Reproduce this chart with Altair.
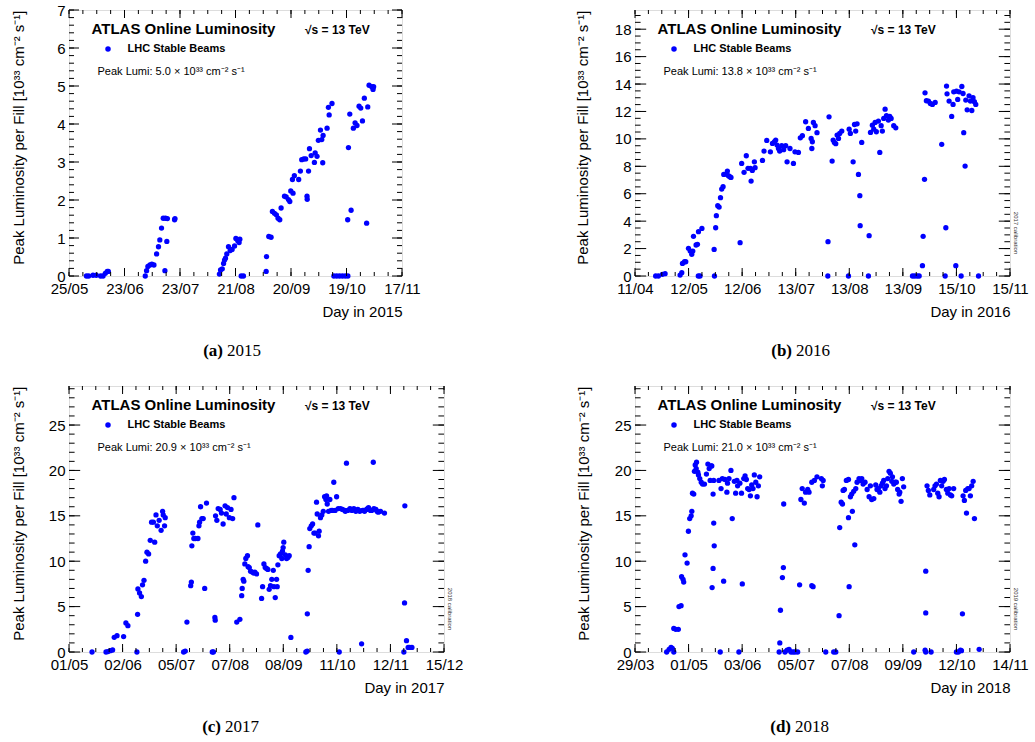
import json
import altair as alt
import pandas as pd
import numpy as np

SANS = "Liberation Sans"
SERIF = "Liberation Serif"
BLUE = "#0000ff"

# ---------------- data (day of year, peak luminosity 1e33) ----------------
days_2015 = [154.2, 155.4, 157.7, 159.4, 161.7, 163.0, 164.2, 165.2, 165.8,
             185.3, 186.0, 186.7, 187.8, 188.8, 189.9, 191.3, 192.3, 193.0, 193.9, 194.8,
             195.7, 196.0, 196.7, 197.0, 200.8, 201.0,
             224.5, 225.1, 226.0, 226.7, 227.2, 227.7, 228.4, 229.3, 230.2, 231.2, 232.5,
             233.2, 234.2, 234.9, 235.3, 236.0, 237.2,
             249.2, 249.4, 250.6, 251.8, 252.5, 253.6, 254.6, 255.5, 256.4, 257.1, 258.9,
             259.8, 261.0, 261.7, 262.2, 263.4, 263.1, 264.1, 266.4, 267.3, 268.0, 269.1,
             270.1, 270.8, 270.9, 271.6, 272.1, 273.0, 274.7, 275.1, 276.1, 276.8, 277.9,
             278.6, 279.1, 279.3, 281.4, 282.1, 282.5, 284.0,
             285.0, 286.5, 288.0, 289.5, 291.0, 292.4,
             292.3, 292.7, 293.4, 294.1, 295.3, 296.2, 297.2, 298.3, 299.2, 300.1, 301.1,
             302.3, 302.9, 303.6, 305.0, 305.7, 306.0]
lumi_2015 = [0, 0, 0.02, 0.02, 0, 0, 0.07, 0.12, 0.12,
             0, 0.14, 0.25, 0.29, 0.31, 0.29, 0.58, 0.77, 0.95, 1.26, 1.52,
             0.14, 1.52, 0.91, 1.51, 1.48, 1.51,
             0.05, 0.16, 0.19, 0.33, 0.42, 0.47, 0.58, 0.77, 0.67, 0.70, 0.79,
             0.99, 0.93, 0.88, 0.97, 0, 0,
             0.12, 0.51, 1.04, 1.02, 1.70, 1.65, 1.61, 1.52, 1.48, 1.79, 2.10,
             2.08, 2.01, 1.96, 2.24, 2.18, 2.54, 2.64, 2.54, 2.76, 3.06, 3.08,
             3.08, 2.10, 2.02, 2.76, 3.35, 3.17, 2.99, 3.24, 3.15, 3.57, 3.84,
             3.59, 2.98, 3.70, 3.89, 4.44, 4.24, 4.54,
             0, 0, 0, 0, 0, 0,
             1.48, 3.38, 4.26, 1.73, 3.89, 4.03, 3.96, 4.47, 4.42, 4.08, 4.68,
             1.39, 4.45, 5.02, 4.98, 4.91, 4.98]

days_2016 = [114.0, 115.6, 117.9, 119.5, 128.2, 129.2, 138.8, 139.8, 148.2,
             129.6, 130.8, 131.5, 133.1, 134.1, 135.0, 135.6, 136.0, 137.5, 138.3, 138.9,
             140.9, 148.0, 148.9, 149.3, 150.1, 150.9, 151.7, 152.4, 153.2, 153.6, 154.8,
             155.7, 156.3, 157.1, 157.8, 163.1, 164.0, 165.4, 166.7, 167.7, 169.1, 169.5,
             170.2, 171.4, 171.8, 176.1, 177.0, 178.6, 180.7, 181.9, 183.1, 183.8, 184.6,
             185.4, 186.1, 187.3, 188.4, 189.6, 190.4, 192.1, 194.1, 195.0, 197.0, 198.1,
             199.3, 201.2, 202.8, 204.4, 204.8, 205.1, 205.7, 206.7, 207.8,
             214.8, 214.2, 214.1, 216.6, 217.2, 217.9, 218.7, 219.5, 220.3, 221.0, 222.2,
             226.1, 226.5, 227.2, 228.8, 229.6, 230.3, 231.1, 231.9, 232.7, 232.9, 233.8,
             238.1, 237.7, 238.9, 240.0, 240.8, 241.6, 242.3, 243.5, 244.3, 245.1, 245.8,
             246.6, 247.4, 248.2, 249.3, 250.1, 250.9, 252.4, 253.6,
             263.3, 264.6, 266.0, 267.2, 269.1, 269.5, 270.3, 270.6, 271.4, 272.6, 273.7,
             274.9, 276.5, 280.3, 282.3, 282.7, 283.1, 283.4, 284.6, 286.1, 286.9, 287.3,
             288.5, 288.9, 289.6, 290.4, 291.6, 292.0, 292.7, 293.1, 293.9, 294.3, 295.1,
             296.2, 297.0, 297.8, 298.5, 299.3, 300.1, 301.7]
lumi_2016 = [0, 0, 0.12, 0.17, 0.07, 0.24, 0, 0, 0,
             0.92, 1.04, 1.04, 2.02, 1.82, 1.58, 1.82, 2.89, 2.26, 2.31, 3.23,
             3.47, 1.94, 3.52, 4.40, 5.13, 5.03, 5.71, 6.34, 6.51, 7.41, 7.43,
             7.65, 7.31, 7.24, 7.19, 2.43, 8.21, 7.56, 8.77, 7.85, 7.85, 6.92,
             7.70, 8.33, 7.90, 8.43, 9.11, 9.89, 9.06, 9.67, 9.79, 9.91, 9.55,
             9.30, 9.11, 9.50, 9.21, 9.50, 8.33, 9.30, 8.21, 9.06, 9.01, 10.08,
             10.23, 11.25, 10.76, 10.03, 9.30, 9.79, 11.20, 10.96, 10.45,
             11.61, 2.50, 0, 8.38, 9.91, 9.74, 9.65, 10.28, 10.03, 10.40, 10.57,
             0, 10.71, 10.40, 8.33, 11.05, 10.57, 11.10, 7.41, 5.86, 3.67, 9.74,
             2.94, 0, 10.47, 11.00, 10.71, 11.20, 10.52, 11.30, 9.01, 10.96, 10.57,
             11.49, 12.17, 11.69, 11.37, 11.64, 11.49, 10.96, 10.81,
             0, 0, 0, 0, 0.75, 2.89, 7.05, 13.36, 12.78, 12.76, 12.58,
             12.51, 12.66, 9.60, 0, 3.52, 13.85, 13.29, 12.76, 11.64, 12.51, 13.43,
             0.75, 13.48, 12.88, 13.43, 0, 13.82, 13.31, 10.45, 8.02, 12.83, 12.12,
             13.14, 12.76, 12.07, 13.00, 12.71, 12.51, 0]

days_2017 = [135.0, 143.5, 144.7, 146.1, 147.5, 148.5, 150.2, 154.2, 155.6, 156.8,
             162.3, 162.7, 162.9, 163.9, 165.0, 165.7, 166.6, 167.6, 168.4, 169.4, 170.4,
             173.1, 171.2, 172.3, 173.9, 174.7, 175.8, 177.0, 177.9, 178.3, 179.1, 179.5,
             190.7, 191.7, 192.7, 195.0, 195.4, 195.7, 196.3, 196.9, 197.8, 199.4, 200.0,
             200.4, 201.0, 201.8, 202.6, 203.5, 204.6, 208.1, 208.8, 209.7, 209.9, 210.1,
             210.9, 211.7, 212.9, 213.7, 214.7, 215.9, 216.6, 217.4, 218.5, 219.5, 220.5,
             221.3, 223.0, 224.9, 226.0, 226.3, 226.9, 227.3, 227.9, 228.5, 229.5, 229.9,
             230.6, 231.4, 232.4, 233.3, 234.0, 235.0, 235.8, 238.1, 238.7, 239.5, 240.3,
             241.1, 241.9, 242.7, 243.5, 244.3, 245.2, 245.6, 246.4, 247.2, 247.6, 248.0,
             248.8, 249.6, 250.4, 250.8, 251.2, 251.6, 252.5, 253.3, 254.1, 254.9, 255.9,
             265.0, 265.8, 265.9, 266.4, 267.0, 267.4, 268.3, 269.1, 269.9, 270.7, 271.5,
             271.9, 272.7, 273.1, 273.9, 274.7, 275.6, 276.4, 277.2, 277.6, 278.0, 278.8,
             279.6, 280.4, 281.2, 282.0, 282.8, 283.7, 284.7, 285.3, 286.1, 287.3, 288.7,
             289.0, 289.7, 290.5, 291.8, 292.4, 293.0, 294.2, 295.4, 295.9, 296.6, 297.2,
             297.8, 298.9, 299.5, 300.1, 300.7, 301.9, 302.5, 303.1, 304.3, 305.0, 306.0,
             306.4, 307.6, 308.3, 309.0, 310.4, 312.8,
             324.6, 325.0, 325.2, 326.2, 327.2, 328.2, 329.5]
lumi_2017 = [0, 0, 0.05, 0.15, 0.22, 1.62, 1.80, 1.70, 3.20, 2.90,
             0, 4.15, 6.95, 6.50, 6.10, 7.40, 7.90, 10.0, 11.0, 10.8, 12.3,
             12.1, 14.3, 14.3, 15.1, 13.9, 14.5, 13.4, 15.5, 15.1, 13.9, 14.8,
             0, 0.10, 3.30, 7.30, 7.70, 11.7, 13.1, 12.5, 12.5, 12.5, 13.9,
             14.3, 16.0, 14.7, 14.7, 7.00, 16.4, 0, 0, 3.80, 3.50, 15.0,
             14.5, 15.8, 15.7, 15.3, 14.1, 16.1, 15.2, 15.9, 14.8, 15.7, 14.7,
             17.0, 3.30, 3.60, 6.20, 7.00, 8.00, 7.80, 9.70, 10.3, 10.6, 9.40,
             9.30, 8.90, 8.80, 8.70, 8.80, 8.60, 14.0, 5.90, 7.20, 9.70, 9.30,
             9.20, 9.10, 6.90, 7.30, 8.00, 9.00, 7.20, 6.00, 8.00, 7.20, 9.60,
             10.6, 10.8, 10.3, 11.1, 11.5, 12.1, 10.7, 10.3, 10.4, 10.6, 1.60,
             0, 0.10, 4.20, 9.00, 11.6, 13.6, 13.9, 14.1, 13.1, 13.1, 16.5,
             15.2, 12.8, 13.3, 14.8, 15.1, 15.5, 17.1, 16.8, 17.2, 16.3, 15.5,
             16.8, 15.6, 15.6, 18.7, 15.6, 17.1, 15.8, 0, 15.8, 15.7, 15.6,
             15.5, 20.8, 15.6, 15.8, 15.7, 15.6, 15.8, 15.5, 15.6, 15.7, 15.6,
             15.5, 0.90, 15.6, 15.6, 15.5, 15.7, 15.8, 15.9, 15.6, 15.6, 20.9,
             15.8, 15.7, 15.5, 15.4, 15.5, 15.3,
             0, 5.40, 16.1, 1.25, 0.50, 0.50, 0.50]

days_2018 = [107.5, 109.0, 110.2, 111.0, 111.9, 111.9, 113.1, 114.7, 115.1, 116.4,
             116.7, 117.6, 118.0, 118.8, 120.1, 120.9, 121.7, 122.6, 123.0, 123.4, 124.2,
             124.6, 125.1, 125.9, 125.7, 126.7, 127.1, 127.9, 128.8, 129.6, 130.8, 132.0,
             132.9, 133.7, 134.3, 134.9, 135.3, 136.1, 136.5, 136.8, 136.1, 135.5, 136.5,
             140.5, 139.7, 141.0, 141.8, 142.6, 143.4, 144.6, 145.0, 145.9, 147.1, 147.9,
             149.2, 150.0, 150.8, 151.2, 152.0, 152.6, 153.6, 154.1, 155.0, 155.8, 156.6,
             157.4, 158.3, 159.1, 159.9, 160.7, 161.5, 162.4, 163.2, 164.0, 164.8,
             176.8, 177.2, 177.6, 178.8, 179.4, 179.6, 180.4, 181.7, 182.9, 184.1, 185.4,
             186.6, 188.2, 189.4, 190.2, 191.0, 192.3, 193.1, 194.4, 195.2, 196.9, 197.7,
             196.9, 198.5, 200.1, 202.8, 203.9, 203.4, 205.5, 210.4, 211.7, 213.7, 214.1,
             215.0, 215.8, 216.2, 217.0, 218.2, 219.5, 219.5, 219.9, 220.7, 221.5, 221.9,
             222.7, 223.4, 224.0, 224.8, 226.0, 226.9, 227.7, 228.5, 229.7, 231.0, 232.2,
             233.0, 233.8, 235.1, 236.3, 237.1, 237.9, 238.8, 239.6, 240.4, 241.2, 242.0,
             242.9, 243.7, 244.5, 245.3, 246.2, 246.6, 247.4, 248.2, 249.0, 249.8, 250.7,
             251.1, 251.9, 252.7, 253.5,
             259.7, 266.7, 267.1, 267.1, 267.1, 267.9, 268.7, 269.6, 270.4, 272.0, 272.8,
             273.7, 274.5, 275.3, 276.1, 276.9, 277.8, 278.6, 279.8, 280.7, 281.5, 282.3,
             283.1, 284.3, 286.0, 287.2, 288.5, 289.1, 289.7, 290.1, 290.9, 291.7, 292.2,
             293.0, 293.8, 294.6, 295.4, 296.3, 297.1, 300.0]
lumi_2018 = [0, 0.30, 0.50, 0.40, 0, 2.60, 2.50, 2.50, 5.00, 5.10,
             8.30, 8.00, 7.70, 10.7, 9.80, 13.3, 14.7, 15.0, 15.5, 17.5, 17.4,
             19.9, 20.6, 20.9, 20.2, 19.8, 19.5, 19.1, 18.7, 18.5, 18.5, 19.6,
             20.7, 20.2, 18.9, 20.5, 20.5, 17.4, 14.2, 11.7, 9.20, 7.10, 18.9,
             0, 18.9, 18.0, 19.1, 7.80, 19.0, 17.6, 18.6, 19.1, 20.0, 14.7,
             18.8, 17.5, 18.9, 18.3, 0, 18.6, 17.5, 7.50, 19.1, 19.4, 19.0,
             18.0, 17.9, 17.2, 18.4, 18.0, 19.5, 18.7, 17.1, 18.3, 19.3,
             0, 1.00, 4.60, 8.20, 9.30, 16.3, 0, 0.20, 0.30, 0, 0,
             0, 0, 7.40, 16.8, 18.0, 16.4, 17.6, 17.9, 17.6, 7.30, 7.20,
             18.7, 18.9, 19.3, 19.1, 18.9, 18.3, 0, 0, 0, 4.00, 13.7,
             16.5, 16.3, 17.8, 17.9, 18.9, 19.0, 14.8, 7.20, 17.1, 17.4, 15.5,
             17.7, 11.8, 18.0, 18.7, 19.1, 18.9, 19.1, 18.5, 18.7, 17.9, 17.1,
             18.3, 16.8, 16.9, 18.4, 17.9, 18.0, 17.6, 18.3, 18.6, 18.9, 18.0,
             18.3, 19.1, 19.9, 19.7, 18.8, 19.3, 18.5, 18.7, 18.7, 17.9, 17.4,
             17.6, 16.6, 19.1, 18.2,
             0, 0.20, 0, 8.90, 4.30, 18.3, 17.8, 17.3, 0, 17.9, 18.3,
             18.5, 17.5, 17.1, 18.9, 18.3, 18.8, 19.0, 17.9, 17.5, 18.0, 17.3,
             17.2, 18.0, 0, 0, 0.20, 0.15, 4.20, 17.2, 16.7, 17.8, 15.3,
             18.0, 18.0, 17.2, 18.3, 18.8, 14.7, 0.30]

labels_2015 = ["25/05", "23/06", "23/07", "21/08", "20/09", "19/10", "17/11"]
labels_2016 = ["11/04", "12/05", "12/06", "13/07", "13/08", "13/09", "15/10", "15/11"]
labels_2017 = ["01/05", "02/06", "05/07", "07/08", "08/09", "11/10", "12/11", "15/12"]
labels_2018 = ["29/03", "01/05", "03/06", "05/07", "07/08", "09/09", "12/10", "14/11"]

peak_text = {"2015": "5.0", "2016": "13.8", "2017": "20.9", "2018": "21.0"}
calib_text = {"2016": "2017 calibration", "2017": "2018 calibration", "2018": "2019 calibration"}

YTITLE = "Peak Luminosity per Fill [10³³ cm⁻² s⁻¹]"


def text_layer(s, x, y, size, weight="normal", align="left", angle=0, font=SANS, color="black"):
    return alt.Chart(pd.DataFrame({"t": [s]})).mark_text(
        align=align, baseline="middle", fontSize=size, fontWeight=weight,
        font=font, angle=angle, color=color
    ).encode(text="t:N", x=alt.value(x), y=alt.value(y))


def make_panel(days, lumi, x_range, x_labels, y_max, y_major_step, y_minor_step,
               width, height, title_pad, year, letter, cap_x):
    x0, x1 = x_range
    n = len(x_labels) - 1
    step = (x1 - x0) / n
    x_major = [x0 + i * step for i in range(n + 1)]
    x_minor = [x0 + i * step / 4 for i in range(4 * n + 1)]
    y_major = [float(v) for v in np.arange(0, y_max + 1e-9, y_major_step)]
    y_minor = [float(v) for v in np.arange(0, y_max + 1e-9, y_minor_step)]

    xs = alt.Scale(domain=[x0, x1], nice=False, zero=False)
    ys = alt.Scale(domain=[0, y_max], nice=False, zero=False)
    label_expr = f"{json.dumps(x_labels)}[round((datum.value - {x0}) / {step})]"

    xaxis = alt.Axis(values=x_major, labelExpr=label_expr, title=f"Day in {year}",
                     titleAnchor="end", ticks=False, tickSize=0, domain=False, grid=False,
                     labelFlush=False, labelOverlap=False, labelPadding=5, titlePadding=8,
                     labelFont=SANS, labelFontSize=15, titleFont=SANS, titleFontSize=15,
                     titleFontWeight="normal", labelColor="black", titleColor="black")
    yaxis = alt.Axis(values=y_major, format="d", title=YTITLE, titleAnchor="end",
                     ticks=False, tickSize=0, domain=False, grid=False, labelFlush=False,
                     labelOverlap=False, labelPadding=4, titlePadding=title_pad,
                     labelFont=SANS, labelFontSize=15, titleFont=SANS, titleFontSize=15,
                     titleFontWeight="normal", labelColor="black", titleColor="black")

    df = pd.DataFrame({"day": days, "lumi": lumi, "series": "LHC Stable Beams"})
    legend = alt.Legend(orient="none", legendX=33.5, legendY=33.5, title=None,
                        labelFont=SANS, labelFontSize=11, labelFontWeight="bold",
                        labelColor="black", symbolType="circle", symbolSize=30,
                        symbolStrokeWidth=0, labelOffset=14, padding=0)
    pts = alt.Chart(df).mark_circle(size=28, opacity=1).encode(
        x=alt.X("day:Q", scale=xs, axis=xaxis),
        y=alt.Y("lumi:Q", scale=ys, axis=yaxis),
        color=alt.Color("series:N", scale=alt.Scale(range=[BLUE]), legend=legend),
    )

    xl_major, xl_minor = 8, 4
    yl_major, yl_minor = round(0.03 * width, 1), round(0.015 * width, 1)

    def xt(vals, L, top):
        return alt.Chart(pd.DataFrame({"v": vals})).mark_rule(color="black", strokeWidth=1).encode(
            x=alt.X("v:Q", scale=xs, axis=xaxis),
            y=alt.value(0 if top else height),
            y2=alt.value(L if top else height - L))

    def yt(vals, L, right):
        return alt.Chart(pd.DataFrame({"v": vals})).mark_rule(color="black", strokeWidth=1).encode(
            y=alt.Y("v:Q", scale=ys, axis=yaxis),
            x=alt.value(width if right else 0),
            x2=alt.value(width - L if right else L))

    layers = [
        pts,
        xt(x_minor, xl_minor, False), xt(x_major, xl_major, False),
        xt(x_minor, xl_minor, True), xt(x_major, xl_major, True),
        yt(y_minor, yl_minor, False), yt(y_major, yl_major, False),
        yt(y_minor, yl_minor, True), yt(y_major, yl_major, True),
        text_layer("ATLAS Online Luminosity", 22.5, 19, 15, "bold"),
        text_layer("√s = 13 TeV", 236, 19.5, 12, "bold"),
        text_layer(f"Peak Lumi: {peak_text[year]} × 10³³ cm⁻² s⁻¹", 28.5, 62, 11),
        text_layer(f"({letter})", cap_x - 9, 341, 17, "bold", align="right", font=SERIF),
        text_layer(year, cap_x - 5, 341, 17, "normal", align="left", font=SERIF),
    ]
    if year in calib_text:
        layers.append(text_layer(calib_text[year], width + 6, 223, 6, angle=90,
                                 align="center", color="#333333"))
    return alt.layer(*layers).properties(width=width, height=height)


pa = make_panel(days_2015, lumi_2015, (145, 321), labels_2015, 7, 1, 0.2, 333, 266, 30, "2015", "a", 163)
pb = make_panel(days_2016, lumi_2016, (102, 320), labels_2016, 19.4, 2, 0.5, 375, 266, 24, "2016", "b", 166)
pc = make_panel(days_2017, lumi_2017, (121, 349), labels_2017, 29.3, 5, 1, 375, 266, 22, "2017", "c", 161)
pd_ = make_panel(days_2018, lumi_2018, (88, 319), labels_2018, 29.3, 5, 1, 375, 266, 23, "2018", "d", 165)

chart = alt.concat(
    pa, pb, pc, pd_, columns=2, spacing={"row": 110, "column": 191}, bounds="flush"
).resolve_scale(
    color="independent", x="independent", y="independent"
).resolve_legend(color="independent").properties(
    padding={"left": 10, "top": 2, "right": 0, "bottom": 0},
    background="white",
).configure_view(stroke="black", strokeWidth=1).configure(font=SANS)

chart.save("out.html", embed_options={"renderer": "svg", "actions": False})
